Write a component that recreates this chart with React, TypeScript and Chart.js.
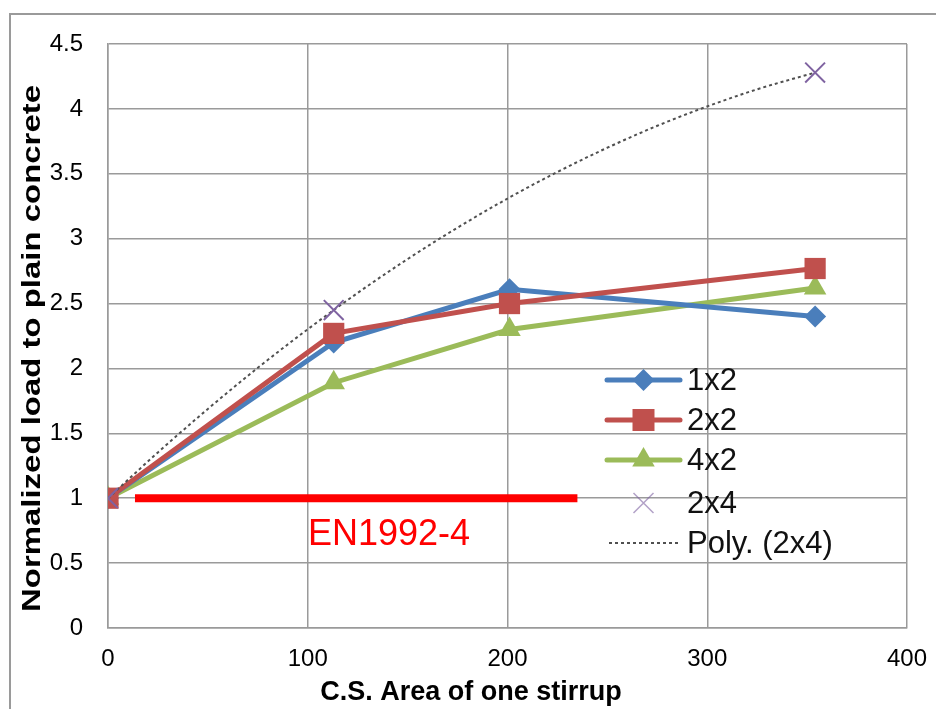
import React, { useEffect, useRef } from "react";
import { Chart, registerables } from "chart.js";

Chart.register(...registerables);

// ---- data ----
const areaX = [0, 113, 201, 354];
const series1x2 = [1, 2.2, 2.61, 2.4];
const series2x2 = [1, 2.27, 2.5, 2.77];
const series4x2 = [1, 1.89, 2.3, 2.62];
const areaX2x4 = [0, 113, 354];
const series2x4 = [1, 2.45, 4.28];
const polyX = [0, 25, 50, 75, 100, 125, 150, 175, 200, 225, 250, 275, 300, 325, 354];
const polyY = [1, 1.353, 1.688, 2.005, 2.302, 2.582, 2.843, 3.085, 3.309, 3.514, 3.701, 3.87, 4.019, 4.151, 4.28];
const enX = [13.5, 235];
const enY = [1, 1];
const xTicks = [0, 100, 200, 300, 400];
const yTicks = [0, 0.5, 1, 1.5, 2, 2.5, 3, 3.5, 4, 4.5];
const legendLabels = ["1x2", "2x2", "4x2", "2x4", "Poly. (2x4)"];

const BLUE = "#4A7EBB";
const RED = "#C0504D";
const GREEN = "#9BBB59";
const PURPLE = "#7F63A1";
const POLY = "#505050";

const pts = (xs: number[], ys: number[]) => xs.map((x, i) => ({ x, y: ys[i] }));

const FONT = "'Liberation Sans', Arial, sans-serif";

function drawMarker(ctx: CanvasRenderingContext2D, kind: string, x: number, y: number, color: string) {
  ctx.save();
  ctx.fillStyle = color;
  ctx.strokeStyle = color;
  ctx.beginPath();
  if (kind === "diamond") {
    const r = 11;
    ctx.moveTo(x, y - r);
    ctx.lineTo(x + r, y);
    ctx.lineTo(x, y + r);
    ctx.lineTo(x - r, y);
    ctx.closePath();
    ctx.fill();
  } else if (kind === "square") {
    const s = 11;
    ctx.rect(x - s, y - s, 2 * s, 2 * s);
    ctx.fill();
  } else if (kind === "triangle") {
    const r = 13;
    ctx.moveTo(x, y - r);
    ctx.lineTo(x + r * 0.866, y + r * 0.5);
    ctx.lineTo(x - r * 0.866, y + r * 0.5);
    ctx.closePath();
    ctx.fill();
  } else if (kind === "cross") {
    const d = 10;
    ctx.lineWidth = 1.5;
    ctx.globalAlpha = 0.6;
    ctx.moveTo(x - d, y - d);
    ctx.lineTo(x + d, y + d);
    ctx.moveTo(x + d, y - d);
    ctx.lineTo(x - d, y + d);
    ctx.stroke();
  }
  ctx.restore();
}

const decorPlugin = {
  id: "decor",
  beforeDraw(chart: any) {
    const ctx = chart.ctx as CanvasRenderingContext2D;
    ctx.save();
    ctx.fillStyle = "#ffffff";
    ctx.fillRect(0, 0, chart.width, chart.height);
    ctx.strokeStyle = "#9a9a9a";
    ctx.lineWidth = 2;
    ctx.strokeRect(10, 14, chart.width + 20, chart.height + 20);
    ctx.restore();
  },
  afterDraw(chart: any) {
    const ctx = chart.ctx as CanvasRenderingContext2D;
    // Y axis title (stretched along its length)
    ctx.save();
    ctx.font = `bold 26px ${FONT}`;
    ctx.fillStyle = "#000";
    ctx.textAlign = "center";
    ctx.textBaseline = "middle";
    const yt = "Normalized load to plain concrete";
    const w = ctx.measureText(yt).width;
    ctx.translate(32.5, 348.5);
    ctx.rotate(-Math.PI / 2);
    ctx.scale(527 / w, 1);
    ctx.fillText(yt, 0, 0);
    ctx.restore();

    // X axis title
    ctx.save();
    ctx.font = `bold 27px ${FONT}`;
    ctx.fillStyle = "#000";
    ctx.textAlign = "center";
    ctx.textBaseline = "alphabetic";
    ctx.fillText("C.S. Area of one stirrup", 471, 700);
    ctx.restore();

    // EN1992-4 label
    ctx.save();
    ctx.font = `36px ${FONT}`;
    ctx.fillStyle = "#FF0000";
    ctx.textAlign = "center";
    ctx.textBaseline = "alphabetic";
    ctx.fillText("EN1992-4", 389, 545);
    ctx.restore();

    // Legend
    const rows = [380, 420, 460, 503, 543];
    const colors = [BLUE, RED, GREEN, PURPLE, POLY];
    const kinds = ["diamond", "square", "triangle", "cross", "poly"];
    const x0 = 607, x1 = 680, xm = 643.5;
    rows.forEach((ry, i) => {
      ctx.save();
      if (kinds[i] === "poly") {
        ctx.strokeStyle = POLY;
        ctx.lineWidth = 2;
        ctx.setLineDash([3, 3]);
        ctx.beginPath();
        ctx.moveTo(x0 + 2, ry);
        ctx.lineTo(x1 - 2, ry);
        ctx.stroke();
      } else if (kinds[i] !== "cross") {
        ctx.strokeStyle = colors[i];
        ctx.lineWidth = 5;
        ctx.lineCap = "round";
        ctx.beginPath();
        ctx.moveTo(x0, ry);
        ctx.lineTo(x1, ry);
        ctx.stroke();
      }
      ctx.restore();
      if (kinds[i] !== "poly") drawMarker(ctx, kinds[i], xm, ry, colors[i]);
      ctx.save();
      ctx.font = `31px ${FONT}`;
      ctx.fillStyle = "#111";
      ctx.textAlign = "left";
      ctx.textBaseline = "middle";
      ctx.fillText(legendLabels[i], 687, ry + 1);
      ctx.restore();
    });
  },
};

export default function App() {
  const ref = useRef<HTMLCanvasElement | null>(null);
  useEffect(() => {
    if (!ref.current) return;
    const chart = new Chart(ref.current, {
      type: "scatter",
      data: {
        datasets: [
          {
            label: "2x4",
            data: pts(areaX2x4, series2x4),
            showLine: false,
            pointStyle: "crossRot",
            pointRadius: 14,
            pointBorderWidth: 2,
            borderColor: PURPLE,
            backgroundColor: PURPLE,
            order: 0,
          },
          {
            label: "Poly. (2x4)",
            data: pts(polyX, polyY),
            showLine: true,
            borderColor: POLY,
            borderWidth: 2,
            borderDash: [3, 3],
            pointRadius: 0,
            tension: 0.4,
            cubicInterpolationMode: "monotone",
            order: 1,
          },
          {
            label: "2x2",
            data: pts(areaX, series2x2),
            showLine: true,
            borderColor: RED,
            backgroundColor: RED,
            borderWidth: 5,
            pointStyle: "rect",
            pointRadius: 15,
            pointBorderWidth: 0,
            order: 2,
          },
          {
            label: "1x2",
            data: pts(areaX, series1x2),
            showLine: true,
            borderColor: BLUE,
            backgroundColor: BLUE,
            borderWidth: 5,
            pointStyle: "rectRot",
            pointRadius: 11,
            pointBorderWidth: 0,
            order: 3,
          },
          {
            label: "4x2",
            data: pts(areaX, series4x2),
            showLine: true,
            borderColor: GREEN,
            backgroundColor: GREEN,
            borderWidth: 5,
            pointStyle: "triangle",
            pointRadius: 13,
            pointBorderWidth: 0,
            order: 4,
          },
          {
            label: "EN1992-4",
            data: pts(enX, enY),
            showLine: true,
            borderColor: "#FF0000",
            borderWidth: 8,
            borderCapStyle: "butt",
            pointRadius: 0,
            order: 5,
          },
        ] as any,
      },
      options: {
        animation: false,
        responsive: false,
        events: [],
        layout: { padding: { left: 0, top: 44, right: 29, bottom: 0 } },
        plugins: { legend: { display: false }, tooltip: { enabled: false } },
        scales: {
          x: {
            type: "linear",
            min: 0,
            max: 400,
            afterFit: (s: any) => {
              s.height = 81;
              s.paddingLeft = 0;
              s.paddingRight = 0;
            },
            afterBuildTicks: (s: any) => { s.ticks = xTicks.map((v) => ({ value: v })); },
            ticks: { font: { family: FONT, size: 24 }, color: "#000", padding: 17, callback: (v: any) => String(v) },
            grid: { color: "#9a9a9a", lineWidth: 1.5, drawTicks: false },
            border: { color: "#9a9a9a", width: 1.5 },
          },
          y: {
            type: "linear",
            min: 0,
            max: 4.5,
            afterFit: (s: any) => {
              s.width = 108;
              s.paddingTop = 0;
              s.paddingBottom = 0;
            },
            afterBuildTicks: (s: any) => { s.ticks = yTicks.map((v) => ({ value: v })); },
            ticks: { font: { family: FONT, size: 24 }, color: "#000", padding: 25, callback: (v: any) => String(v) },
            grid: { color: "#9a9a9a", lineWidth: 1.5, drawTicks: false },
            border: { color: "#9a9a9a", width: 1.5 },
          },
        },
      },
      plugins: [decorPlugin],
    });
    return () => chart.destroy();
  }, []);
  return (
    <div style={{ position: "absolute", left: 0, top: 0, width: 936, height: 709 }}>
      <canvas ref={ref} width={936} height={709} style={{ display: "block" }} />
    </div>
  );
}
